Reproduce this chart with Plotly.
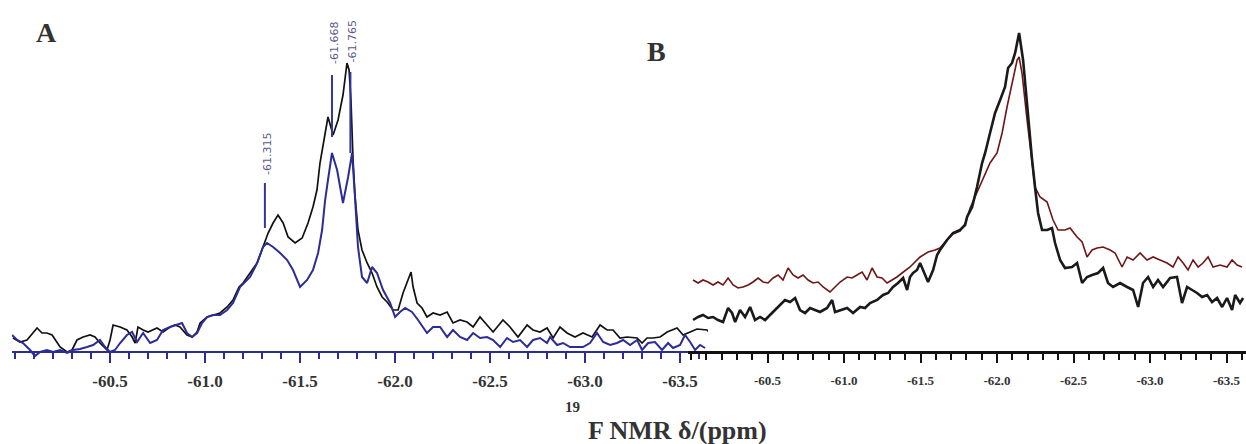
import plotly.graph_objects as go

# ---------------- data (ppm, intensity in arbitrary units) ----------------
a_black_ppm = [-59.989,-60.026,-60.063,-60.116,-60.142,-60.168,-60.195,-60.237,-60.274,-60.300,-60.326,-60.358,-60.395,-60.421,-60.447,-60.484,-60.500,-60.516,-60.553,-60.589,-60.616,-60.632,-60.647,-60.674,-60.700,-60.726,-60.747,-60.779,-60.816,-60.842,-60.868,-60.905,-60.932,-60.958,-60.974,-61.011,-61.042,-61.079,-61.116,-61.147,-61.179,-61.200,-61.237,-61.274,-61.305,-61.332,-61.358,-61.384,-61.411,-61.437,-61.474,-61.511,-61.542,-61.568,-61.589,-61.605,-61.626,-61.647,-61.674,-61.700,-61.726,-61.747,-61.758,-61.768,-61.779,-61.789,-61.805,-61.826,-61.853,-61.879,-61.905,-61.932,-61.958,-61.989,-62.016,-62.042,-62.068,-62.084,-62.095,-62.116,-62.142,-62.168,-62.200,-62.237,-62.274,-62.305,-62.342,-62.379,-62.411,-62.447,-62.484,-62.516,-62.568,-62.605,-62.647,-62.695,-62.726,-62.763,-62.800,-62.832,-62.868,-62.905,-62.947,-62.989,-63.037,-63.079,-63.116,-63.147,-63.184,-63.221,-63.274,-63.300,-63.326,-63.358,-63.395,-63.432,-63.484,-63.516,-63.553,-63.589,-63.642,-63.658]
a_black_int = [14,10,12,24,19,19,17,5,0,2,12,15,17,15,9,2,12,27,25,22,15,9,25,22,20,22,24,20,25,27,25,17,15,20,29,35,37,39,45,52,65,69,79,89,105,119,129,137,129,115,109,114,129,145,162,189,212,235,217,232,257,289,282,252,192,157,122,102,89,79,65,55,50,42,42,59,72,80,65,49,44,35,39,37,40,29,32,30,25,35,27,20,32,25,15,27,22,20,24,14,25,19,15,19,15,27,22,22,14,15,14,9,14,14,15,20,24,17,20,23,22,19]

a_blue_ppm = [-59.984,-60.011,-60.042,-60.079,-60.105,-60.132,-60.168,-60.200,-60.237,-60.274,-60.305,-60.342,-60.379,-60.411,-60.447,-60.474,-60.500,-60.526,-60.553,-60.589,-60.616,-60.642,-60.674,-60.711,-60.747,-60.779,-60.816,-60.853,-60.879,-60.905,-60.932,-60.958,-60.984,-61.011,-61.042,-61.079,-61.116,-61.147,-61.184,-61.237,-61.274,-61.305,-61.326,-61.358,-61.395,-61.432,-61.463,-61.500,-61.537,-61.568,-61.595,-61.616,-61.632,-61.647,-61.668,-61.695,-61.726,-61.753,-61.774,-61.789,-61.805,-61.826,-61.853,-61.879,-61.905,-61.937,-61.974,-62.000,-62.026,-62.053,-62.089,-62.121,-62.168,-62.200,-62.237,-62.274,-62.305,-62.342,-62.379,-62.411,-62.447,-62.484,-62.516,-62.553,-62.589,-62.621,-62.658,-62.695,-62.726,-62.763,-62.800,-62.816,-62.853,-62.884,-62.921,-62.958,-62.989,-63.026,-63.063,-63.095,-63.132,-63.168,-63.200,-63.237,-63.274,-63.300,-63.332,-63.368,-63.405,-63.437,-63.463,-63.500,-63.526,-63.553,-63.579,-63.605,-63.632]
a_blue_int = [17,12,9,2,-4,0,2,0,2,-1,2,3,5,7,12,5,0,2,9,17,20,10,19,9,12,22,25,27,29,19,15,19,29,35,37,37,42,49,65,75,89,105,109,105,99,92,82,65,72,82,99,122,152,172,199,182,149,175,199,155,105,75,69,85,79,62,49,35,40,44,40,32,19,25,25,15,22,15,12,19,14,15,12,5,14,10,12,5,12,14,9,15,7,9,5,5,5,9,19,10,7,9,12,7,12,2,9,10,2,9,4,7,17,10,2,7,4]

a_peak_ppm = [-61.315, -61.668, -61.765]
a_peak_labels = ["-61.315", "-61.668", "-61.765"]
a_peak_line_lo = [124, 215, 199]
a_peak_line_hi = [169, 277, 280]
a_peak_label_y = [198, 309, 311]

b_black_ppm = [-60.013,-60.046,-60.078,-60.111,-60.144,-60.176,-60.209,-60.242,-60.268,-60.288,-60.320,-60.353,-60.386,-60.418,-60.451,-60.484,-60.516,-60.549,-60.582,-60.614,-60.647,-60.680,-60.712,-60.745,-60.778,-60.810,-60.843,-60.889,-60.922,-60.941,-60.974,-61.020,-61.059,-61.105,-61.137,-61.170,-61.216,-61.255,-61.288,-61.320,-61.353,-61.386,-61.412,-61.431,-61.451,-61.477,-61.497,-61.529,-61.549,-61.582,-61.608,-61.627,-61.673,-61.712,-61.758,-61.791,-61.804,-61.837,-61.869,-61.902,-61.922,-61.954,-61.987,-62.020,-62.052,-62.072,-62.098,-62.118,-62.144,-62.170,-62.203,-62.229,-62.248,-62.268,-62.294,-62.327,-62.359,-62.379,-62.412,-62.444,-62.490,-62.523,-62.556,-62.588,-62.621,-62.660,-62.693,-62.725,-62.758,-62.804,-62.850,-62.889,-62.922,-62.954,-62.987,-63.020,-63.052,-63.085,-63.131,-63.176,-63.209,-63.242,-63.275,-63.307,-63.340,-63.373,-63.405,-63.438,-63.471,-63.503,-63.536,-63.556,-63.588,-63.608]
b_black_int = [32,35,37,34,35,32,30,44,39,30,42,35,45,32,35,32,37,42,47,52,50,54,42,39,44,42,40,44,52,40,42,44,39,45,44,49,52,57,59,65,69,74,62,75,79,82,89,77,70,82,97,102,112,119,122,127,135,145,165,189,199,219,239,252,265,284,289,299,319,292,232,192,165,139,122,122,124,109,92,84,85,89,69,75,77,79,84,69,65,69,65,62,45,69,75,65,72,65,74,75,49,65,62,59,55,57,50,54,45,54,42,57,49,54]

b_red_ppm = [-60.013,-60.046,-60.078,-60.111,-60.144,-60.176,-60.209,-60.242,-60.275,-60.307,-60.340,-60.373,-60.405,-60.438,-60.471,-60.503,-60.536,-60.569,-60.601,-60.634,-60.667,-60.699,-60.732,-60.765,-60.797,-60.830,-60.863,-60.908,-60.941,-60.974,-61.020,-61.052,-61.085,-61.118,-61.150,-61.183,-61.216,-61.248,-61.281,-61.314,-61.346,-61.379,-61.431,-61.497,-61.549,-61.595,-61.627,-61.673,-61.712,-61.758,-61.791,-61.824,-61.869,-61.908,-61.954,-62.000,-62.033,-62.065,-62.098,-62.131,-62.144,-62.163,-62.196,-62.229,-62.248,-62.281,-62.327,-62.366,-62.399,-62.444,-62.477,-62.523,-62.556,-62.588,-62.621,-62.654,-62.693,-62.739,-62.771,-62.817,-62.850,-62.889,-62.935,-62.980,-63.020,-63.065,-63.111,-63.150,-63.183,-63.216,-63.248,-63.281,-63.314,-63.346,-63.379,-63.412,-63.458,-63.503,-63.536,-63.569,-63.601]
b_red_int = [72,69,72,70,67,70,67,74,67,64,65,67,70,74,70,69,74,77,72,84,77,74,77,72,69,70,65,60,65,70,75,74,77,80,72,84,75,74,69,72,75,79,85,95,100,102,104,112,118,121,128,144,159,172,189,199,219,245,269,292,295,279,232,189,165,155,150,132,122,122,124,115,110,95,102,104,105,102,99,85,95,92,99,92,95,92,89,85,95,89,82,92,85,89,95,85,87,85,92,87,85]

major_ticks = [-60.0, -60.5, -61.0, -61.5, -62.0, -62.5, -63.0, -63.5]
major_text = ["", "-60.5", "-61.0", "-61.5", "-62.0", "-62.5", "-63.0", "-63.5"]
minor_ticks = [round(-60.0 - 0.1 * i, 1) for i in range(0, 37)]

# ---------------- styling ----------------
W, H = 1246, 444
SERIF = "Liberation Serif"
blue = "#2c2c96"

fig = go.Figure()
fig.add_trace(go.Scatter(x=a_black_ppm, y=a_black_int, mode="lines",
                         line=dict(color="#111111", width=1.7), xaxis="x", yaxis="y",
                         showlegend=False, hoverinfo="skip"))
fig.add_trace(go.Scatter(x=a_blue_ppm, y=a_blue_int, mode="lines",
                         line=dict(color=blue, width=2), xaxis="x", yaxis="y",
                         showlegend=False, hoverinfo="skip"))
fig.add_trace(go.Scatter(x=b_red_ppm, y=b_red_int, mode="lines",
                         line=dict(color="#6e1616", width=1.6), xaxis="x2", yaxis="y2",
                         showlegend=False, hoverinfo="skip"))
fig.add_trace(go.Scatter(x=b_black_ppm, y=b_black_int, mode="lines",
                         line=dict(color="#1a1a1a", width=2.6), xaxis="x2", yaxis="y2",
                         showlegend=False, hoverinfo="skip"))

# peak marker lines and labels (panel A)
for p, lo, hi, lab, ly in zip(a_peak_ppm, a_peak_line_lo, a_peak_line_hi, a_peak_labels, a_peak_label_y):
    fig.add_shape(type="line", xref="x", yref="y", x0=p, x1=p, y0=lo, y1=hi,
                  line=dict(color="#3434a0", width=2))
    fig.add_annotation(x=p, y=ly, xref="x", yref="y", text=lab, textangle=-90,
                       showarrow=False, xshift=2, xanchor="center", yanchor="middle",
                       font=dict(family="DejaVu Sans", size=11, color="#5a5a8c"))

axis_common = dict(showgrid=False, zeroline=False, ticks="outside", anchor="free",
                   position=92 / H, tickmode="array", tickvals=major_ticks,
                   ticktext=major_text, fixedrange=True)

fig.update_layout(
    width=W, height=H, margin=dict(l=0, r=0, t=0, b=0),
    paper_bgcolor="white", plot_bgcolor="rgba(0,0,0,0)",
    xaxis=dict(domain=[12 / W, 708 / W], range=[-59.984, -63.647],
               showline=True, linecolor=blue, linewidth=2,
               tickcolor=blue, ticklen=10, tickwidth=2,
               minor=dict(tickmode="array", tickvals=minor_ticks, ticks="outside",
                          ticklen=6, tickwidth=2, tickcolor=blue),
               tickfont=dict(family=SERIF, size=17, color="#333333", weight="bold"),
               ticklabelstandoff=4, **axis_common),
    xaxis2=dict(domain=[688 / W, 1.0], range=[-59.980, -63.627],
                showline=True, linecolor="#111111", linewidth=3,
                tickcolor="#111111", ticklen=9, tickwidth=2,
                minor=dict(tickmode="array", tickvals=minor_ticks, ticks="outside",
                           ticklen=6, tickwidth=2, tickcolor="#111111"),
                tickfont=dict(family=SERIF, size=13, color="#333333", weight="bold"),
                ticklabelstandoff=6, **axis_common),
    yaxis=dict(domain=[0, 1], range=[-92, 352], visible=False, anchor="x", fixedrange=True),
    yaxis2=dict(domain=[0, 1], range=[-92, 352], visible=False, anchor="x2", fixedrange=True),
)

def label(px, py, text, size):
    fig.add_annotation(x=px / W, y=1 - py / H, xref="paper", yref="paper", text=text,
                       showarrow=False, xanchor="center", yanchor="middle",
                       font=dict(family=SERIF, size=size, color="#333333", weight="bold"))

label(47, 32, "A", 28)
label(656, 51, "B", 28)
label(572, 407, "19", 15)
label(678, 430, "F NMR δ/(ppm)", 26)

fig.write_html("out.html", config={"displayModeBar": False},
               post_script="document.body.style.margin='0';")
